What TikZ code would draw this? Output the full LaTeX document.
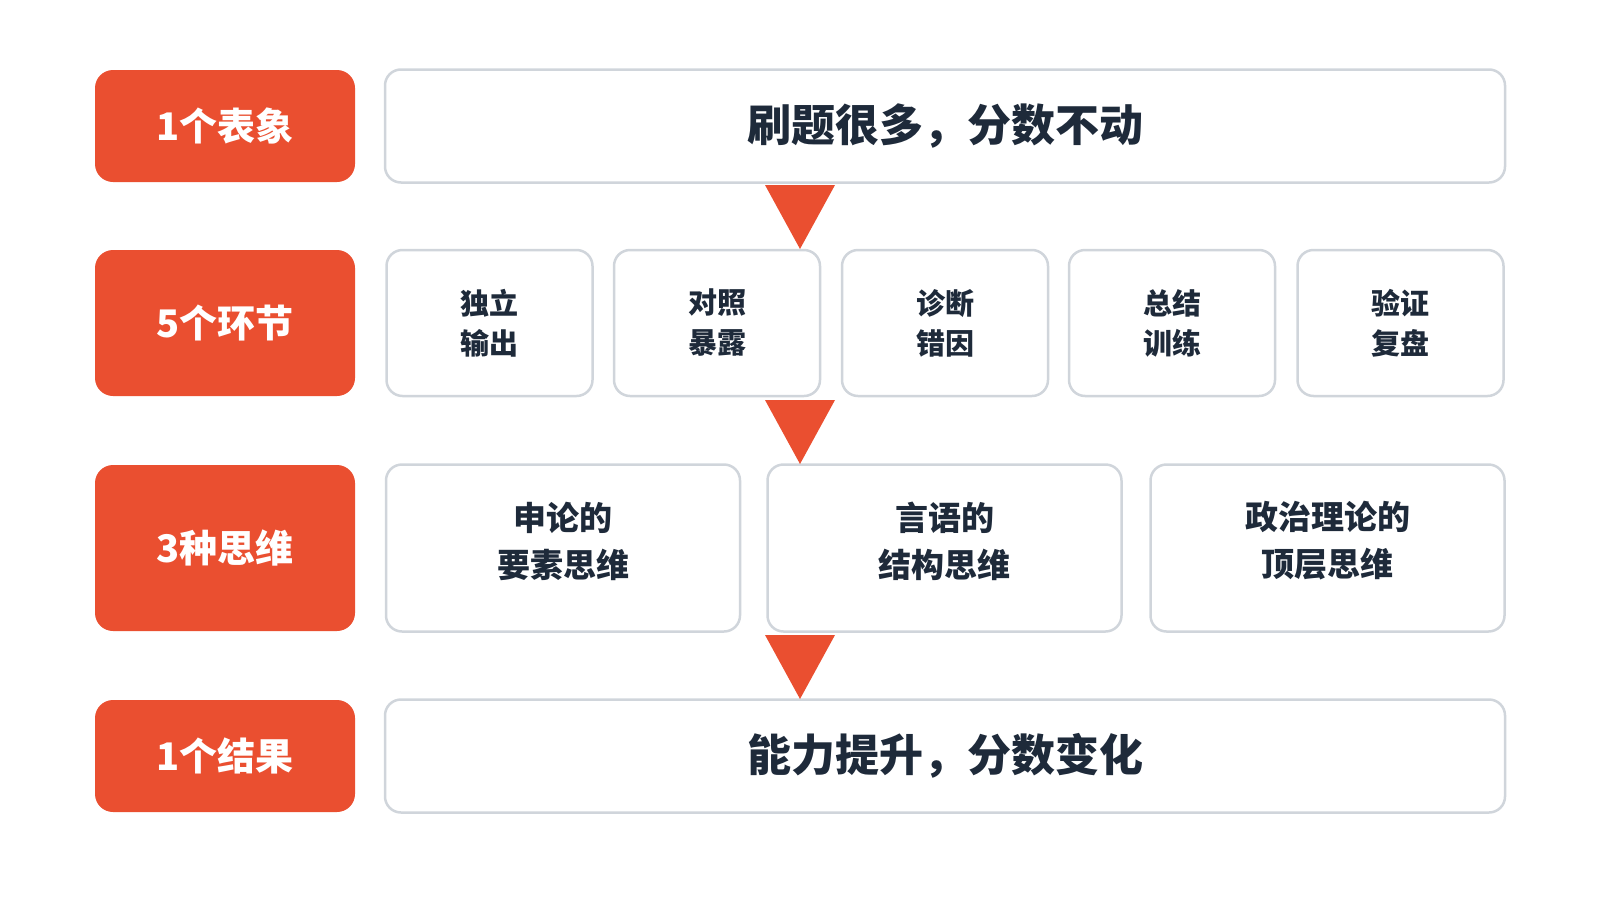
\documentclass[tikz,border=0pt]{standalone}
\usepackage{fontspec}
\newfontfamily\cjk{Noto Sans CJK SC}
\definecolor{accent}{RGB}{234,79,48}
\definecolor{edge}{RGB}{208,213,219}
\definecolor{ink}{RGB}{30,42,58}
\tikzset{
  redbox/.style={fill=accent, rounded corners=18pt, minimum width=260pt, minimum height=#1, text=white, font=\cjk\bfseries\fontsize{38}{42}\selectfont, inner sep=0pt},
  whitebox/.style={draw=edge, line width=2.5pt, fill=white, rounded corners=16pt, inner sep=0pt, text=ink, align=center},
  bigtxt/.style={font=\cjk\bfseries\fontsize{44}{50}\selectfont},
  midtxt/.style={font=\cjk\bfseries\fontsize{29}{40}\selectfont},
  thinktxt/.style={font=\cjk\bfseries\fontsize{33}{47}\selectfont, text=ink, align=center, inner sep=0pt},
  tri/.style={fill=accent}
}
\begin{document}
\begin{tikzpicture}[x=1pt,y=-1pt]
\useasboundingbox (0,0) rectangle (1600,900);
% left labels
\node[redbox=112pt] (r1) at (225,126) {1个表象};
\node[redbox=146pt] (r2) at (225,323) {5个环节};
\node[redbox=166pt] (r3) at (225,548) {3种思维};
\node[redbox=112pt] (r4) at (225,756) {1个结果};
% row 1
\node[whitebox, bigtxt, minimum width=1120pt, minimum height=113pt] (w1) at (945,126) {刷题很多，分数不动};
% row 2
\node[whitebox, midtxt, minimum width=206pt, minimum height=146pt] (a1) at (489.5,323) {独立\\输出};
\node[whitebox, midtxt, minimum width=206pt, minimum height=146pt] (a2) at (717,323) {对照\\暴露};
\node[whitebox, midtxt, minimum width=206pt, minimum height=146pt] (a3) at (945,323) {诊断\\错因};
\node[whitebox, midtxt, minimum width=206pt, minimum height=146pt] (a4) at (1172,323) {总结\\训练};
\node[whitebox, midtxt, minimum width=206pt, minimum height=146pt] (a5) at (1400.5,323) {验证\\复盘};
% row 3
\node[whitebox, minimum width=354pt, minimum height=167pt] (b1) at (563,548) {};
\node[whitebox, minimum width=354pt, minimum height=167pt] (b2) at (944.5,548) {};
\node[whitebox, minimum width=354pt, minimum height=167pt] (b3) at (1327.5,548) {};
\node[thinktxt] (b1t) at (563,541) {申论的\\要素思维};
\node[thinktxt] (b2t) at (944.5,541) {言语的\\结构思维};
\node[thinktxt] (b3t) at (1327.5,541) {政治理论的\\顶层思维};
% row 4
\node[whitebox, bigtxt, minimum width=1120pt, minimum height=113pt] (w4) at (945,756) {能力提升，分数变化};
% triangles
\fill[tri] (765,185) -- (835,185) -- (800,249) -- cycle;
\fill[tri] (765,400) -- (835,400) -- (800,464) -- cycle;
\fill[tri] (765,635) -- (835,635) -- (800,699) -- cycle;
\end{tikzpicture}
\end{document}
